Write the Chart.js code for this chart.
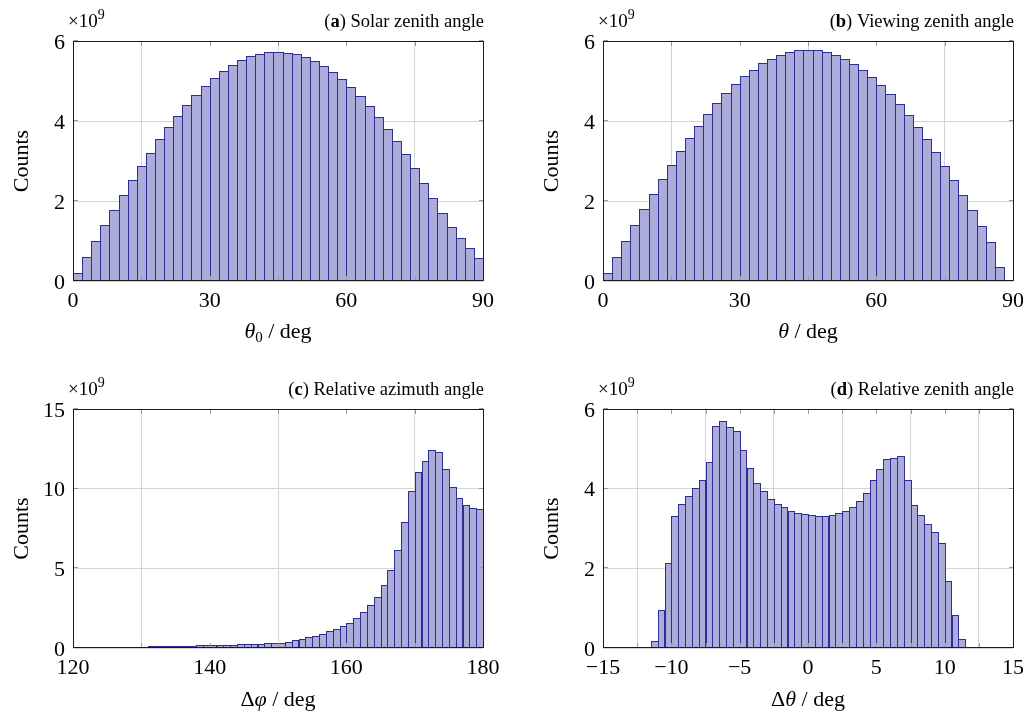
<!DOCTYPE html>
<html><head><meta charset="utf-8">
<script src="https://cdn.jsdelivr.net/npm/chart.js@4.4.1/dist/chart.umd.min.js"></script>
<style>
html,body{margin:0;padding:0;background:#fff;}
body{width:1028px;height:713px;position:relative;overflow:hidden;}
canvas{position:absolute;}
</style></head><body>
<canvas id="ca" width="514" height="356" style="left:0;top:0;width:514px;height:356px"></canvas>
<canvas id="cb" width="514" height="356" style="left:530px;top:0;width:514px;height:356px"></canvas>
<canvas id="cc" width="514" height="345" style="left:0;top:368px;width:514px;height:345px"></canvas>
<canvas id="cd" width="514" height="345" style="left:530px;top:368px;width:514px;height:345px"></canvas>
<script>
// ---- data (counts in units of 10^9) ----
const solarBinStart = 0, solarBinWidth = 2;
const solarCounts = [0.21,0.61,1.01,1.40,1.78,2.16,2.53,2.88,3.21,3.54,
  3.85,4.13,4.41,4.66,4.88,5.08,5.25,5.41,5.52,5.62,
  5.68,5.73,5.73,5.71,5.67,5.61,5.51,5.38,5.23,5.05,
  4.84,4.62,4.37,4.10,3.81,3.50,3.18,2.83,2.46,2.08,
  1.70,1.35,1.08,0.82,0.58];

const viewBinStart = 0, viewBinWidth = 2;
const viewCounts = [0.21,0.61,1.01,1.41,1.79,2.17,2.54,2.90,3.24,3.57,
  3.88,4.17,4.44,4.69,4.92,5.12,5.28,5.44,5.56,5.66,
  5.73,5.78,5.78,5.77,5.73,5.65,5.55,5.43,5.28,5.10,
  4.90,4.68,4.43,4.15,3.86,3.55,3.22,2.88,2.52,2.15,
  1.77,1.38,0.98,0.34,0];

const azimuthBinStart = 120, azimuthBinWidth = 1;
const azimuthCounts = [0.05,0.05,0.055,0.06,0.06,0.065,0.07,0.075,0.08,0.085,
  0.09,0.10,0.105,0.11,0.12,0.13,0.14,0.15,0.16,0.17,
  0.18,0.19,0.20,0.21,0.22,0.235,0.25,0.27,0.29,0.31,
  0.33,0.40,0.48,0.56,0.67,0.77,0.90,1.04,1.19,1.35,
  1.60,1.88,2.25,2.69,3.23,3.94,4.90,6.17,7.92,9.85,
  11.02,11.75,12.42,12.27,11.21,10.08,9.40,8.98,8.81,8.71];

const relZenithBinStart = -15, relZenithBinWidth = 0.5;
const relZenithCounts = [0,0,0,0,0,0,0,
  0.18,0.96,2.14,3.32,3.62,3.81,4.02,4.23,4.66,5.58,
  5.70,5.56,5.45,4.96,4.53,4.15,3.93,3.75,3.62,3.53,
  3.44,3.39,3.36,3.33,3.32,3.32,3.34,3.38,3.45,3.53,
  3.68,3.89,4.23,4.49,4.75,4.78,4.83,4.21,3.59,3.34,
  3.11,2.91,2.63,1.69,0.84,0.23,
  0,0,0,0,0,0,0];

// ---- tick labels ----
const angleXTicks = [0,30,60,90];
const angleXMinor = [15,45,75];
const angleYTicks = [0,2,4,6];
const azimuthXTicks = [120,140,160,180];
const azimuthXMinor = [130,150,170];
const azimuthYTicks = [0,5,10,15];
const relXTicks = [-15,-10,-5,0,5,10,15];
const relXMinor = [-12.5,-7.5,-2.5,2.5,7.5,12.5];
const relYTicks = [0,2,4,6];

// ---- styling ----
const FAM = '"Liberation Serif", "Times New Roman", serif';
const fR = '18.5px ' + FAM, fB = 'bold 18.5px ' + FAM;
const fL = '22px ' + FAM, fLI = 'italic 22px ' + FAM, fSub = '15px ' + FAM;
const FILL = '#acacdb', EDGE = '#2d2d95';

function drawRich(ctx, segs, x, y, align) {
  let w = 0;
  segs.forEach(s => { ctx.font = s.f; w += ctx.measureText(s.t).width; });
  let cx = align === 'right' ? x - w : align === 'center' ? x - w / 2 : x;
  ctx.textAlign = 'left';
  segs.forEach(s => { ctx.font = s.f; ctx.fillText(s.t, cx, y + (s.dy || 0)); cx += ctx.measureText(s.t).width; });
}

function makePanel(id, p) {
  const centers = p.counts.map((v, i) => p.binStart + p.binWidth * (i + 0.5));
  const data = centers.map((c, i) => ({ x: c, y: p.counts[i] }));
  const canvas = document.getElementById(id);
  const H = canvas.height;
  const decor = {
    id: 'decor',
    beforeDatasetsDraw(chart) {
      // snap bar edges to whole pixels so neighbouring bars share one 1px edge
      chart.getDatasetMeta(0).data.forEach(el => {
        if (el._snapped) return;
        const l = Math.round(el.x - el.width / 2), r = Math.round(el.x + el.width / 2);
        el.x = (l + r + 1) / 2; el.width = r + 1 - l;
        el.y = Math.round(el.y); el.base = Math.round(el.base);
        el._snapped = true;
      });
    },
    afterDatasetsDraw(chart) {
      const ctx = chart.ctx, a = chart.chartArea;
      const xs = chart.scales.x, ys = chart.scales.y;
      ctx.save();
      ctx.strokeStyle = '#9a9a9a';
      ctx.lineWidth = 1;
      const L = 4.5;
      const l = Math.round(a.left) + 0.5, r = Math.round(a.right) + 0.5;
      const t = Math.round(a.top) + 0.5, b = Math.round(a.bottom) - 0.5;
      [...p.xTicks, ...p.xMinor].forEach(v => {
        const px = Math.round(xs.getPixelForValue(v)) + 0.5;
        ctx.beginPath(); ctx.moveTo(px, b); ctx.lineTo(px, b - L); ctx.stroke();
        ctx.beginPath(); ctx.moveTo(px, t); ctx.lineTo(px, t + L); ctx.stroke();
      });
      p.yTicks.forEach(v => {
        const py = Math.round(ys.getPixelForValue(v)) - 0.5;
        ctx.beginPath(); ctx.moveTo(l, py); ctx.lineTo(l + L, py); ctx.stroke();
        ctx.beginPath(); ctx.moveTo(r, py); ctx.lineTo(r - L, py); ctx.stroke();
      });
      ctx.strokeStyle = '#1a1a1a';
      ctx.strokeRect(l, t, r - l, b - t);
      ctx.restore();
    },
    afterDraw(chart) {
      const ctx = chart.ctx, a = chart.chartArea;
      ctx.save();
      ctx.fillStyle = '#000';
      ctx.textBaseline = 'alphabetic';
      drawRich(ctx, p.title, a.right + 1, 27, 'right');
      drawRich(ctx, [{ t: '\u00d710', f: '19px ' + FAM }, { t: '9', f: '14px ' + FAM, dy: -8 }], 68, 27, 'left');
      drawRich(ctx, p.xlabel, (a.left + a.right) / 2, 338, 'center');
      ctx.save();
      ctx.translate(28, (a.top + a.bottom) / 2);
      ctx.rotate(-Math.PI / 2);
      ctx.font = fL;
      ctx.textAlign = 'center';
      ctx.fillText('Counts', 0, 0);
      ctx.restore();
      ctx.restore();
    }
  };
  const fmt = v => (v < 0 ? '\u2212' + Math.abs(v) : String(v));
  new Chart(canvas, {
    type: 'bar',
    data: { datasets: [{
      data,
      backgroundColor: FILL,
      borderColor: EDGE,
      borderWidth: c => (c.raw && c.raw.y > 0 ? 1 : 0),
      borderSkipped: false,
      inflateAmount: 0,
      barPercentage: 1,
      categoryPercentage: 1
    }] },
    options: {
      responsive: false,
      animation: false,
      devicePixelRatio: 1,
      layout: { padding: { left: 0, top: 41, right: 31, bottom: 0 } },
      plugins: { legend: { display: false }, tooltip: { enabled: false } },
      scales: {
        x: {
          type: 'linear', offset: false, min: p.xMin, max: p.xMax,
          afterBuildTicks: s => { s.ticks = p.xTicks.map(v => ({ value: v })); },
          afterFit: s => { s.height = H - p.areaBottom; },
          grid: { color: '#d4d4d4', drawTicks: false },
          border: { display: false },
          ticks: { color: '#000', font: { family: FAM, size: 22 }, padding: 7, maxRotation: 0, autoSkip: false, callback: fmt }
        },
        y: {
          min: 0, max: p.yMax,
          afterBuildTicks: s => { s.ticks = p.yTicks.map(v => ({ value: v })); },
          afterFit: s => { s.width = 73; },
          grid: { color: '#d4d4d4', drawTicks: false },
          border: { display: false },
          ticks: { color: '#000', font: { family: FAM, size: 22 }, padding: 8, labelOffset: 2, callback: fmt }
        }
      }
    },
    plugins: [decor]
  });
}

makePanel('ca', {
  counts: solarCounts, binStart: solarBinStart, binWidth: solarBinWidth,
  xMin: 0, xMax: 90, xTicks: angleXTicks, xMinor: angleXMinor, yMax: 6, yTicks: angleYTicks,
  areaBottom: 281,
  title: [{ t: '(', f: fR }, { t: 'a', f: fB }, { t: ') Solar zenith angle', f: fR }],
  xlabel: [{ t: '\u03b8', f: fLI }, { t: '0', f: fSub, dy: 4 }, { t: ' / deg', f: fL }]
});
makePanel('cb', {
  counts: viewCounts, binStart: viewBinStart, binWidth: viewBinWidth,
  xMin: 0, xMax: 90, xTicks: angleXTicks, xMinor: angleXMinor, yMax: 6, yTicks: angleYTicks,
  areaBottom: 281,
  title: [{ t: '(', f: fR }, { t: 'b', f: fB }, { t: ') Viewing zenith angle', f: fR }],
  xlabel: [{ t: '\u03b8', f: fLI }, { t: ' / deg', f: fL }]
});
makePanel('cc', {
  counts: azimuthCounts, binStart: azimuthBinStart, binWidth: azimuthBinWidth,
  xMin: 120, xMax: 180, xTicks: azimuthXTicks, xMinor: azimuthXMinor, yMax: 15, yTicks: azimuthYTicks,
  areaBottom: 280,
  title: [{ t: '(', f: fR }, { t: 'c', f: fB }, { t: ') Relative azimuth angle', f: fR }],
  xlabel: [{ t: '\u0394', f: fL }, { t: '\u03c6', f: fLI }, { t: ' / deg', f: fL }]
});
makePanel('cd', {
  counts: relZenithCounts, binStart: relZenithBinStart, binWidth: relZenithBinWidth,
  xMin: -15, xMax: 15, xTicks: relXTicks, xMinor: relXMinor, yMax: 6, yTicks: relYTicks,
  areaBottom: 280,
  title: [{ t: '(', f: fR }, { t: 'd', f: fB }, { t: ') Relative zenith angle', f: fR }],
  xlabel: [{ t: '\u0394', f: fL }, { t: '\u03b8', f: fLI }, { t: ' / deg', f: fL }]
});
</script>
</body></html>
